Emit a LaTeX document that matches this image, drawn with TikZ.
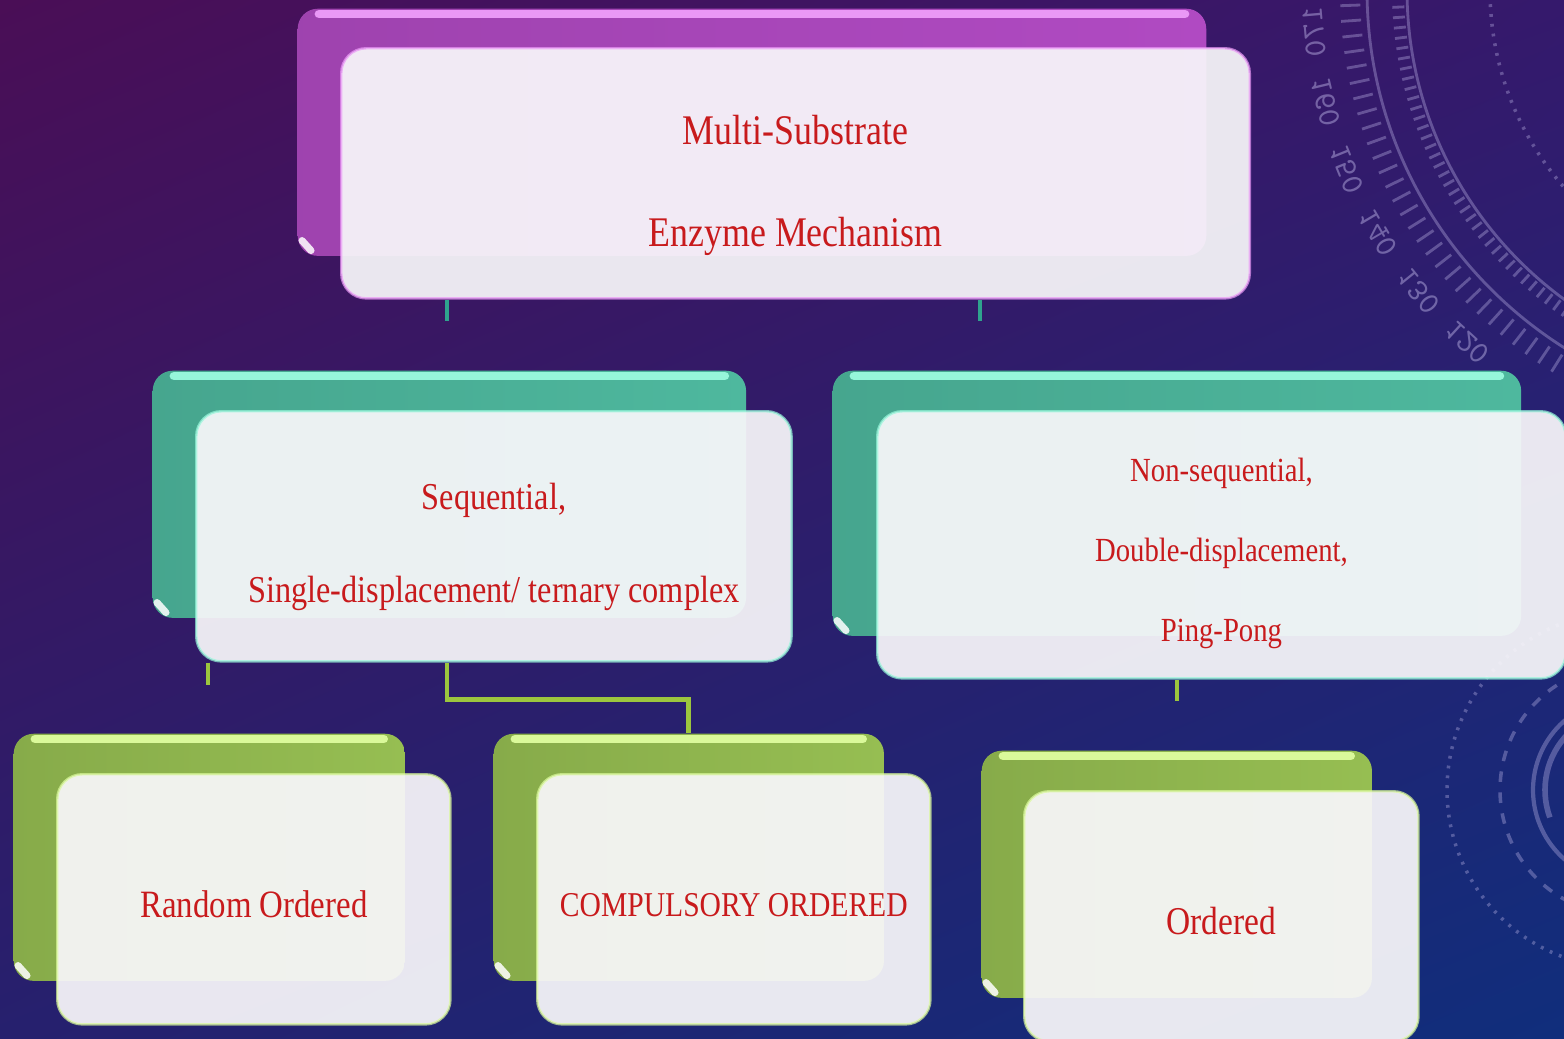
\documentclass[tikz,border=0pt]{standalone}
\usepackage{fontspec}
\setmainfont{Liberation Serif}[FakeStretch=0.85]
\usepackage{xcolor}
\usetikzlibrary{calc}
\usetikzlibrary{positioning,shadings}
\definecolor{bgtl}{HTML}{4A0E56}
\definecolor{bgtr}{HTML}{35196C}
\definecolor{bgbl}{HTML}{26206E}
\definecolor{bgbr}{HTML}{102E7C}
\definecolor{dialline}{HTML}{C4BCEC}
\definecolor{tabpurple}{HTML}{B04AC2}
\definecolor{hipurple}{HTML}{EA98F6}
\definecolor{tabteal}{HTML}{4EB89E}
\definecolor{hiteal}{HTML}{96F6DA}
\definecolor{tabgreen}{HTML}{96BE52}
\definecolor{higreen}{HTML}{DAF99A}
\definecolor{boxfill}{HTML}{F8F7FA}
\definecolor{txtred}{HTML}{C81A1C}
\definecolor{linkteal}{HTML}{2FA38E}
\definecolor{linkgreen}{HTML}{9CC63E}

\begin{document}
\begin{tikzpicture}[
x=0.01cm, y=-0.01cm,
Tab/.style={left color=#1!90!black, right color=#1, rounded corners=0.2cm, inner sep=0pt, anchor=north west},
Front/.style={draw=#1, draw opacity=0.7, line width=0.7pt, fill=boxfill, fill opacity=0.93, text opacity=1,
  rounded corners=0.25cm, inner sep=0pt, align=center, text=txtred, anchor=north west},
Drop/.style={execute at begin node={\rule{0pt}{#1}}},
Hi/.style={draw=#1, line width=2.5pt, line cap=round},
Glint/.style={draw=white, line width=2pt, line cap=round, opacity=0.85},
Link/.style={draw=#1, line width=1.4pt},
Dial/.style={dialline, opacity=0.35, line width=0.8pt}
]
\useasboundingbox (0,0) rectangle (1564,1038);
\clip (0,0) rectangle (1564,1038);
\shade[upper left=bgtl, upper right=bgtr, lower left=bgbl, lower right=bgbr] (0,0) rectangle (1564,1038);

% dial top right
\begin{scope}[shift={(1790,-10)}]
\draw[Dial] (0,0) circle (423);
\draw[Dial] (0,0) circle (383);
\draw[Dial, dotted, line width=1pt] (0,0) circle (300);
\foreach \a in {110,112,...,190}
  \draw[Dial] (\a:430) -- (\a:450);
\foreach \a in {110,111.5,...,190}
  \draw[Dial] (\a:386) -- (\a:398);
\foreach \a/\t in {175/170,166.5/160,158/150,149.5/140,141/130,132.5/120}
  \node[dialline, opacity=0.45, font=\ttfamily\small, rotate=270-\a, xscale=-1] at (\a:478) {\t};
\end{scope}

% dial bottom right
\begin{scope}[shift={(1625,790)}]
\draw[Dial, line width=1.2pt] (0,0) circle (92);
\draw[Dial, line width=1.6pt] (225:80) arc (225:160:80);
\draw[Dial, dashed, line width=1pt] (0,0) circle (125);
\draw[Dial, dotted, line width=1pt] (0,0) circle (178);
\end{scope}

% top box
\node[Tab=tabpurple, minimum width=9.08cm, minimum height=2.47cm] (topTab) at (297,8) {};
\draw[Hi=hipurple] ([shift={(22,6)}]topTab.north west) -- ([shift={(-22,6)}]topTab.north east);
\draw[Glint] ([shift={(5,-16)}]topTab.south west) -- ([shift={(14,-6)}]topTab.south west);
\node[Front=hipurple, text height=41.8pt, text depth=0pt, minimum width=9.08cm, minimum height=2.5cm,
  font=\fontsize{12}{29}\selectfont] (top) at ([shift={(43,39)}]topTab.north west)
  {Multi-Substrate\\Enzyme Mechanism};

% second row
\node[Tab=tabteal, minimum width=5.93cm, minimum height=2.47cm] (seqTab) at (152,370) {};
\draw[Hi=hiteal] ([shift={(22,6)}]seqTab.north west) -- ([shift={(-22,6)}]seqTab.north east);
\draw[Glint] ([shift={(5,-16)}]seqTab.south west) -- ([shift={(14,-6)}]seqTab.south west);
\node[Front=hiteal, text height=37.9pt, text depth=0pt, minimum width=5.95cm, minimum height=2.5cm,
  font=\fontsize{10.8}{26.5}\selectfont] (seq) at ([shift={(43,40)}]seqTab.north west)
  {Sequential,\\Single-displacement/ ternary complex};

\node[Tab=tabteal, minimum width=6.88cm, minimum height=2.65cm] (nonseqTab) at (832,370) {};
\draw[Hi=hiteal] ([shift={(22,6)}]nonseqTab.north west) -- ([shift={(-22,6)}]nonseqTab.north east);
\draw[Glint] ([shift={(5,-16)}]nonseqTab.south west) -- ([shift={(14,-6)}]nonseqTab.south west);
\node[Front=hiteal, text height=55pt, text depth=0pt, minimum width=6.88cm, minimum height=2.67cm,
  font=\fontsize{9.6}{22.8}\selectfont] (nonseq) at ([shift={(44,40)}]nonseqTab.north west)
  {Non-sequential,\\Double-displacement,\\Ping-Pong};

% third row
\node[Tab=tabgreen, minimum width=3.91cm, minimum height=2.47cm] (randTab) at (13,733) {};
\draw[Hi=higreen] ([shift={(22,6)}]randTab.north west) -- ([shift={(-22,6)}]randTab.north east);
\draw[Glint] ([shift={(5,-16)}]randTab.south west) -- ([shift={(14,-6)}]randTab.south west);
\node[Front=higreen, Drop=10.3pt, minimum width=3.93cm, minimum height=2.5cm,
  font=\fontsize{11}{13}\selectfont] (rand) at ([shift={(43,40)}]randTab.north west)
  {Random Ordered};

\node[Tab=tabgreen, minimum width=3.9cm, minimum height=2.47cm] (compTab) at (493,733) {};
\draw[Hi=higreen] ([shift={(22,6)}]compTab.north west) -- ([shift={(-22,6)}]compTab.north east);
\draw[Glint] ([shift={(5,-16)}]compTab.south west) -- ([shift={(14,-6)}]compTab.south west);
\node[Front=higreen, Drop=10pt, minimum width=3.93cm, minimum height=2.5cm,
  font=\fontsize{9.9}{12}\selectfont] (comp) at ([shift={(43,40)}]compTab.north west)
  {COMPULSORY ORDERED};

\node[Tab=tabgreen, minimum width=3.9cm, minimum height=2.47cm] (ordTab) at (981,750) {};
\draw[Hi=higreen] ([shift={(22,6)}]ordTab.north west) -- ([shift={(-22,6)}]ordTab.north east);
\draw[Glint] ([shift={(5,-16)}]ordTab.south west) -- ([shift={(14,-6)}]ordTab.south west);
\node[Front=higreen, Drop=10.4pt, minimum width=3.94cm, minimum height=2.5cm,
  font=\fontsize{11.2}{13}\selectfont] (ord) at ([shift={(42,40)}]ordTab.north west)
  {Ordered};

% connectors
\draw[Link=linkteal] ([shift={(107,0)}]top.south west) -- ++(0,21);
\draw[Link=linkteal] ([shift={(640,0)}]top.south west) -- ++(0,21);
\draw[Link=linkgreen] ([shift={(13,0)}]seq.south west) -- ++(0,22);
\draw[Link=linkgreen] ([shift={(252,0)}]seq.south west) -- ++(0,37) -| (compTab.north);
\draw[Link=linkgreen] ([shift={(301,0)}]nonseq.south west) -- ++(0,21);

\end{tikzpicture}
\end{document}
